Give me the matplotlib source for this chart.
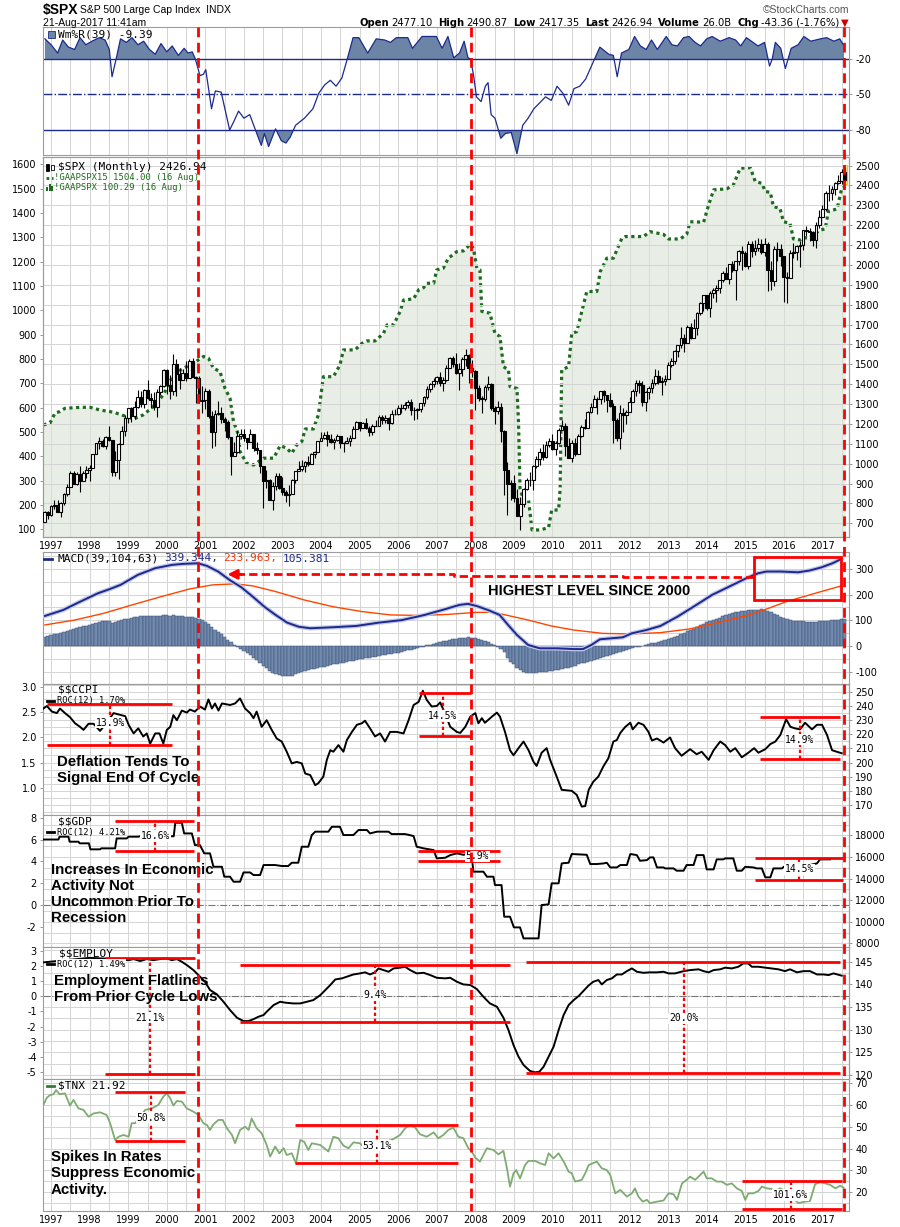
import numpy as np
import matplotlib
matplotlib.use("Agg")
import matplotlib.pyplot as plt
import matplotlib.transforms as mtransforms
from matplotlib.lines import Line2D
from matplotlib.patches import Rectangle

plt.rcParams["font.family"] = ["DejaVu Sans"]
plt.rcParams["text.parse_math"] = False
plt.rcParams["axes.unicode_minus"] = False
BOLD = ["Liberation Sans", "DejaVu Sans"]
MONO = ["DejaVu Sans Mono", "DejaVu Sans"]

# ---------------- data ----------------
# monthly $SPX candles, first bar = Nov 1996, bars sit at the start of each month
spx_first_month = 1996 + 10 / 12
spx_first_open = 705
spx_close = [
    757, 741,
    786, 791, 757, 801, 848, 885, 954, 899, 947, 915, 955, 970,
    980, 1049, 1102, 1112, 1091, 1134, 1121, 957, 1017, 1099, 1164, 1229,
    1280, 1238, 1286, 1335, 1302, 1373, 1329, 1320, 1283, 1363, 1389, 1469,
    1394, 1366, 1499, 1452, 1421, 1455, 1431, 1518, 1437, 1429, 1315, 1320,
    1366, 1240, 1160, 1249, 1256, 1224, 1211, 1134, 1041, 1060, 1139, 1148,
    1130, 1107, 1147, 1077, 1067, 990, 912, 916, 815, 886, 936, 880,
    856, 841, 848, 917, 964, 975, 990, 1008, 996, 1051, 1058, 1112,
    1131, 1145, 1126, 1107, 1121, 1141, 1102, 1104, 1115, 1130, 1174, 1212,
    1181, 1204, 1181, 1157, 1192, 1191, 1234, 1220, 1229, 1207, 1249, 1248,
    1280, 1281, 1295, 1311, 1270, 1270, 1277, 1304, 1336, 1378, 1401, 1418,
    1438, 1407, 1421, 1482, 1531, 1503, 1455, 1474, 1527, 1549, 1481, 1468,
    1379, 1331, 1323, 1386, 1400, 1280, 1267, 1283, 1166, 969, 896, 903,
    826, 735, 798, 873, 919, 919, 987, 1021, 1057, 1036, 1096, 1115,
    1074, 1104, 1169, 1187, 1089, 1031, 1102, 1049, 1141, 1183, 1181, 1258,
    1286, 1327, 1326, 1364, 1345, 1321, 1292, 1219, 1131, 1253, 1247, 1258,
    1312, 1366, 1408, 1398, 1310, 1362, 1379, 1407, 1441, 1412, 1416, 1426,
    1498, 1515, 1569, 1598, 1631, 1606, 1686, 1633, 1682, 1757, 1806, 1848,
    1783, 1859, 1872, 1884, 1924, 1960, 1931, 2003, 1972, 2018, 2068, 2059,
    1995, 2105, 2068, 2086, 2107, 2063, 2104, 1972, 1920, 2079, 2080, 2044,
    1940, 1932, 2060, 2065, 2097, 2099, 2174, 2171, 2168, 2126, 2199, 2239,
    2279, 2364, 2363, 2384, 2412, 2423, 2470, 2427,
]
spx_high = [
    762, 762,
    794, 817, 815, 805, 851, 899, 962, 961, 960, 987, 964, 986,
    992, 1051, 1106, 1132, 1123, 1139, 1190, 1121, 1066, 1103, 1192, 1245,
    1280, 1283, 1317, 1370, 1368, 1374, 1421, 1357, 1361, 1374, 1397, 1474,
    1478, 1445, 1553, 1528, 1481, 1475, 1517, 1525, 1531, 1441, 1439, 1390,
    1383, 1376, 1263, 1269, 1316, 1287, 1237, 1218, 1136, 1111, 1164, 1173,
    1176, 1131, 1173, 1147, 1107, 1070, 990, 966, 925, 908, 952, 954,
    935, 866, 895, 924, 965, 1015, 1016, 1011, 1040, 1054, 1063, 1112,
    1158, 1159, 1163, 1151, 1128, 1147, 1141, 1109, 1132, 1142, 1188, 1217,
    1212, 1212, 1229, 1192, 1199, 1219, 1246, 1245, 1243, 1233, 1271, 1276,
    1295, 1298, 1311, 1318, 1326, 1285, 1281, 1307, 1340, 1389, 1407, 1432,
    1441, 1461, 1438, 1498, 1535, 1541, 1556, 1504, 1539, 1576, 1553, 1524,
    1472, 1396, 1341, 1397, 1440, 1405, 1292, 1314, 1303, 1167, 1007, 919,
    944, 875, 833, 878, 930, 956, 993, 1039, 1081, 1101, 1114, 1130,
    1150, 1113, 1180, 1220, 1203, 1131, 1120, 1130, 1150, 1196, 1227, 1263,
    1303, 1345, 1333, 1365, 1371, 1346, 1357, 1307, 1230, 1293, 1278, 1270,
    1333, 1378, 1420, 1422, 1415, 1364, 1392, 1426, 1475, 1470, 1434, 1448,
    1510, 1530, 1570, 1598, 1687, 1654, 1698, 1709, 1730, 1765, 1814, 1849,
    1851, 1867, 1884, 1897, 1925, 1968, 1992, 2006, 2019, 2019, 2075, 2093,
    2072, 2120, 2118, 2126, 2135, 2130, 2133, 2113, 2021, 2094, 2117, 2104,
    2044, 1963, 2073, 2111, 2100, 2120, 2178, 2194, 2188, 2170, 2214, 2278,
    2301, 2371, 2401, 2399, 2418, 2454, 2484, 2491,
]
spx_low = [
    705, 723,
    737, 773, 756, 733, 793, 836, 882, 898, 893, 855, 914, 926,
    912, 980, 1047, 1076, 1084, 1074, 1112, 940, 940, 923, 1097, 1137,
    1205, 1212, 1226, 1281, 1287, 1279, 1325, 1281, 1268, 1233, 1347, 1387,
    1350, 1325, 1346, 1339, 1374, 1421, 1416, 1431, 1436, 1305, 1307, 1254,
    1275, 1228, 1081, 1091, 1245, 1203, 1165, 1125, 945, 1038, 1054, 1124,
    1114, 1075, 1107, 1064, 1049, 952, 776, 876, 815, 768, 868, 871,
    840, 806, 789, 847, 902, 962, 962, 960, 990, 996, 1031, 1058,
    1112, 1124, 1087, 1105, 1076, 1114, 1079, 1060, 1102, 1090, 1127, 1173,
    1163, 1180, 1176, 1137, 1146, 1188, 1191, 1201, 1205, 1168, 1201, 1246,
    1245, 1253, 1268, 1282, 1245, 1220, 1225, 1261, 1290, 1327, 1360, 1385,
    1403, 1390, 1364, 1416, 1482, 1484, 1452, 1371, 1439, 1490, 1407, 1435,
    1271, 1317, 1257, 1315, 1373, 1272, 1200, 1248, 1107, 840, 741, 815,
    805, 735, 667, 784, 866, 889, 869, 978, 992, 1020, 1029, 1085,
    1071, 1045, 1101, 1170, 1040, 1029, 1010, 1040, 1048, 1132, 1174, 1187,
    1257, 1289, 1249, 1299, 1311, 1259, 1283, 1102, 1114, 1075, 1159, 1202,
    1258, 1312, 1340, 1358, 1292, 1267, 1325, 1355, 1396, 1403, 1343, 1398,
    1426, 1485, 1501, 1537, 1581, 1560, 1605, 1627, 1633, 1646, 1746, 1768,
    1771, 1737, 1834, 1814, 1859, 1915, 1930, 1905, 1964, 1821, 2001, 1973,
    1988, 1981, 2040, 2049, 2068, 2056, 2044, 1867, 1872, 1893, 2019, 1993,
    1812, 1810, 1937, 2034, 2025, 1992, 2075, 2148, 2120, 2097, 2084, 2187,
    2245, 2271, 2322, 2329, 2353, 2405, 2408, 2417,
]

# !GAAPSPX15 (dotted line + shaded area, left scale)
gaap15 = [
    (1996.80, 529), (1996.97, 536), (1997.10, 577), (1997.23, 584), (1997.36, 597),
    (1997.75, 601), (1998.01, 601), (1998.27, 590), (1998.62, 581), (1998.88, 567),
    (1999.14, 553), (1999.39, 570), (1999.65, 604), (1999.91, 652), (2000.17, 734),
    (2000.43, 762), (2000.69, 782), (2000.95, 810), (2001.08, 803), (2001.21, 762),
    (2001.38, 748), (2001.51, 679), (2001.64, 638), (2001.73, 542), (2001.86, 488),
    (2001.90, 419), (2002.07, 371), (2002.25, 364), (2002.51, 392), (2002.77, 392),
    (2002.94, 444), (2003.11, 433), (2003.24, 412), (2003.37, 447), (2003.50, 460),
    (2003.59, 512), (2003.80, 512), (2003.93, 570), (2004.06, 727), (2004.32, 727),
    (2004.49, 775), (2004.58, 837), (2004.88, 837), (2005.06, 864), (2005.19, 874),
    (2005.40, 874), (2005.62, 905), (2005.71, 940), (2005.88, 940), (2006.05, 995),
    (2006.14, 1042), (2006.40, 1047), (2006.53, 1084), (2006.66, 1093), (2006.74, 1111),
    (2006.92, 1111), (2007.00, 1166), (2007.17, 1173), (2007.30, 1214), (2007.52, 1241),
    (2007.69, 1244), (2007.87, 1271), (2007.95, 1255), (2008.04, 1173), (2008.12, 1166),
    (2008.17, 995), (2008.38, 988), (2008.51, 905), (2008.64, 892), (2008.73, 768),
    (2008.86, 755), (2008.90, 686), (2009.08, 679), (2009.12, 542), (2009.16, 268),
    (2009.25, 221), (2009.38, 221), (2009.47, 97), (2009.68, 97), (2009.90, 107),
    (2009.98, 179), (2010.16, 179), (2010.20, 268), (2010.24, 755), (2010.42, 768),
    (2010.50, 905), (2010.63, 912), (2010.76, 995), (2010.89, 1077), (2011.15, 1077),
    (2011.24, 1159), (2011.41, 1214), (2011.58, 1214), (2011.80, 1296), (2011.89, 1303),
    (2012.36, 1303), (2012.53, 1323), (2012.88, 1312), (2013.01, 1293), (2013.31, 1293),
    (2013.48, 1312), (2013.57, 1364), (2013.92, 1362), (2014.05, 1433), (2014.18, 1495),
    (2014.52, 1499), (2014.69, 1515), (2014.87, 1584), (2015.13, 1586), (2015.26, 1529),
    (2015.43, 1522), (2015.52, 1488), (2015.65, 1485), (2015.73, 1426), (2015.90, 1419),
    (2015.99, 1364), (2016.16, 1358), (2016.25, 1293), (2016.42, 1289), (2016.51, 1299),
    (2016.64, 1296), (2016.77, 1310), (2016.94, 1330), (2017.07, 1334), (2017.16, 1408),
    (2017.38, 1416), (2017.50, 1501), (2017.59, 1508),
]

# Williams %R(39)
wmr = [
    (1996.84, -3), (1997.00, -8), (1997.17, -15), (1997.30, -4), (1997.45, -10),
    (1997.61, -12), (1997.75, -2), (1997.90, -8), (1998.06, -5), (1998.25, -2),
    (1998.40, -4), (1998.51, -12), (1998.58, -35), (1998.70, -18), (1998.80, -3),
    (1998.95, -6), (1999.10, -2), (1999.25, -8), (1999.40, -5), (1999.55, -12),
    (1999.70, -16), (1999.85, -7), (2000.00, -14), (2000.14, -9), (2000.30, -17),
    (2000.45, -11), (2000.55, -15), (2000.66, -14), (2000.74, -20), (2000.86, -34),
    (2000.95, -33), (2001.01, -29), (2001.16, -62), (2001.26, -47), (2001.41, -48),
    (2001.63, -80), (2001.75, -72), (2001.86, -64), (2002.00, -70), (2002.15, -67),
    (2002.30, -80), (2002.45, -93), (2002.53, -83), (2002.64, -94), (2002.82, -79),
    (2002.97, -89), (2003.09, -91), (2003.20, -86), (2003.34, -76), (2003.57, -70),
    (2003.79, -62), (2003.94, -49), (2004.09, -42), (2004.24, -38), (2004.39, -43),
    (2004.54, -36), (2004.68, -20), (2004.83, -2), (2004.98, -2), (2005.21, -15),
    (2005.43, -3), (2005.65, -4), (2005.80, -6), (2005.95, -2), (2006.25, -2),
    (2006.37, -11), (2006.62, -1), (2006.99, -1), (2007.14, -11), (2007.29, -1),
    (2007.44, -19), (2007.59, -15), (2007.71, -5), (2007.81, -19), (2007.88, -20),
    (2007.96, -35), (2008.03, -52), (2008.15, -56), (2008.26, -43), (2008.33, -40),
    (2008.41, -67), (2008.51, -70), (2008.66, -87), (2008.78, -83), (2008.93, -82),
    (2009.08, -100), (2009.23, -76), (2009.37, -70), (2009.52, -62), (2009.67, -57),
    (2009.82, -52), (2009.97, -55), (2010.12, -43), (2010.27, -49), (2010.42, -59),
    (2010.56, -45), (2010.71, -43), (2010.86, -37), (2011.01, -26), (2011.23, -10),
    (2011.46, -16), (2011.58, -17), (2011.68, -35), (2011.79, -15), (2011.98, -12),
    (2012.13, -1), (2012.28, -9), (2012.43, -12), (2012.57, -4), (2012.72, -12),
    (2012.95, -1), (2013.10, -8), (2013.24, -9), (2013.40, -2), (2013.54, -1),
    (2013.70, -6), (2013.84, -9), (2014.00, -3), (2014.14, -1), (2014.35, -5),
    (2014.58, -2), (2014.75, -4), (2014.88, -9), (2015.03, -2), (2015.20, -6),
    (2015.33, -9), (2015.50, -6), (2015.63, -26), (2015.70, -20), (2015.78, -6),
    (2015.92, -11), (2016.04, -28), (2016.19, -11), (2016.37, -8), (2016.52, -1),
    (2016.70, -5), (2016.82, -4), (2016.95, -3), (2017.11, -2), (2017.30, -5),
    (2017.45, -3), (2017.56, -9),
]

# MACD(39,104,63)
macd_line = [
    (1996.84, 117), (1997.31, 140), (1997.76, 173), (1998.21, 205), (1998.51, 221),
    (1998.80, 238), (1999.25, 277), (1999.70, 303), (2000.14, 316), (2000.44, 320),
    (2000.81, 322), (2001.04, 312), (2001.33, 290), (2001.63, 257), (2001.93, 229),
    (2002.23, 192), (2002.53, 153), (2002.82, 121), (2003.12, 91), (2003.42, 75),
    (2003.72, 69), (2004.31, 73), (2004.91, 78), (2005.50, 91), (2006.10, 101),
    (2006.69, 121), (2007.14, 140), (2007.59, 160), (2007.81, 164), (2008.03, 156),
    (2008.33, 140), (2008.63, 121), (2008.85, 82), (2009.08, 43), (2009.37, 4),
    (2009.67, -9), (2010.12, -9), (2010.56, -12), (2010.79, -12), (2011.01, 4),
    (2011.23, 26), (2011.53, 30), (2011.83, 34), (2012.05, 49), (2012.43, 62),
    (2012.80, 78), (2013.24, 114), (2013.69, 156), (2014.14, 199), (2014.58, 231),
    (2015.03, 264), (2015.33, 283), (2015.55, 290), (2015.92, 290), (2016.37, 287),
    (2016.67, 294), (2016.97, 306), (2017.26, 322), (2017.49, 339),
]
macd_signal = [
    (1996.84, 82), (1997.61, 101), (1998.36, 127), (1999.10, 160), (1999.85, 192),
    (2000.59, 222), (2001.19, 238), (2001.78, 242), (2002.23, 234), (2002.82, 212),
    (2003.57, 179), (2004.31, 153), (2005.06, 134), (2005.80, 121), (2006.54, 119),
    (2007.29, 123), (2008.03, 131), (2008.48, 131), (2008.78, 121), (2009.37, 101),
    (2009.97, 78), (2010.56, 62), (2011.31, 49), (2012.05, 47), (2012.80, 52),
    (2013.54, 66), (2014.29, 91), (2015.03, 118), (2015.48, 140), (2016.07, 173),
    (2016.67, 199), (2017.11, 218), (2017.49, 234),
]
# monthly histogram, same months as the candles
macd_hist = [
    34, 38,
    42, 45, 48, 52, 56, 59, 62, 66, 70, 73, 76, 79,
    82, 85, 88, 92, 96, 99, 96, 90, 93, 98, 101, 104,
    107, 110, 112, 114, 115, 116, 117, 117, 116, 117, 118, 119,
    119, 118, 119, 118, 117, 116, 114, 113, 112, 110, 106, 100,
    92, 84, 74, 64, 54, 45, 35, 25, 14, 4, -5, -12,
    -20, -28, -36, -45, -55, -66, -77, -87, -96, -104, -110, -114,
    -117, -118, -117, -115, -111, -106, -101, -97, -94, -91, -88, -85,
    -82, -80, -78, -75, -72, -70, -68, -66, -63, -60, -58, -55,
    -52, -50, -48, -46, -44, -41, -39, -37, -35, -33, -31, -29,
    -26, -23, -20, -17, -14, -11, -8, -5, -2, 2, 5, 8,
    12, 15, 18, 21, 24, 27, 29, 30, 32, 33, 34, 33,
    30, 26, 22, 18, 14, 9, 4, -2, -10, -25, -45, -62,
    -72, -84, -95, -100, -104, -106, -106, -105, -103, -101, -100, -98,
    -96, -94, -92, -89, -87, -84, -80, -76, -72, -68, -65, -61,
    -57, -53, -49, -45, -42, -39, -35, -30, -26, -22, -18, -14,
    -11, -8, -5, -2, 1, 4, 7, 10, 13, 16, 19, 22,
    26, 30, 34, 39, 45, 51, 57, 62, 68, 74, 80, 86,
    92, 96, 100, 105, 110, 115, 120, 124, 128, 131, 134, 137,
    138, 139, 140, 141, 142, 143, 142, 138, 132, 126, 120, 114,
    108, 104, 101, 99, 98, 97, 96, 95, 95, 95, 95, 96,
    97, 98, 99, 100, 101, 102, 104, 105,
]

# $$CCPI ROC(12), %
ccpi_roc = [
    (1996.80, 2.57), (1996.89, 2.62), (1997.02, 2.51), (1997.15, 2.48), (1997.23, 2.57),
    (1997.36, 2.48), (1997.49, 2.40), (1997.62, 2.28), (1997.75, 2.21), (1997.84, 2.15),
    (1997.97, 2.27), (1998.10, 2.27), (1998.27, 2.13), (1998.45, 2.30), (1998.62, 2.48),
    (1998.92, 2.42), (1999.01, 2.25), (1999.14, 2.08), (1999.26, 2.18), (1999.39, 2.02),
    (1999.48, 2.08), (1999.57, 1.88), (1999.70, 2.08), (1999.81, 2.08), (1999.91, 1.88),
    (2000.00, 2.15), (2000.09, 2.21), (2000.17, 2.44), (2000.26, 2.34), (2000.39, 2.53),
    (2000.52, 2.49), (2000.60, 2.55), (2000.73, 2.51), (2000.86, 2.61), (2000.99, 2.55),
    (2001.08, 2.75), (2001.17, 2.57), (2001.25, 2.67), (2001.34, 2.53), (2001.43, 2.67),
    (2001.64, 2.64), (2001.77, 2.67), (2001.90, 2.77), (2002.03, 2.57), (2002.16, 2.48),
    (2002.25, 2.38), (2002.33, 2.51), (2002.46, 2.21), (2002.59, 2.34), (2002.72, 2.15),
    (2002.85, 1.98), (2002.98, 1.92), (2003.11, 1.72), (2003.24, 1.49), (2003.37, 1.52),
    (2003.50, 1.49), (2003.59, 1.29), (2003.72, 1.26), (2003.85, 1.06), (2003.93, 1.10),
    (2004.06, 1.23), (2004.15, 1.56), (2004.24, 1.75), (2004.32, 1.72), (2004.45, 1.85),
    (2004.58, 1.72), (2004.67, 1.95), (2004.80, 2.11), (2004.93, 2.25), (2005.06, 2.28),
    (2005.14, 2.33), (2005.27, 2.18), (2005.40, 2.02), (2005.53, 2.08), (2005.66, 1.92),
    (2005.79, 2.11), (2005.96, 2.11), (2006.14, 2.08), (2006.27, 2.34), (2006.40, 2.64),
    (2006.53, 2.70), (2006.64, 2.92), (2006.74, 2.74), (2006.87, 2.61), (2007.00, 2.62),
    (2007.09, 2.69), (2007.16, 2.57), (2007.35, 2.21), (2007.52, 2.11), (2007.61, 2.09),
    (2007.74, 2.21), (2007.87, 2.41), (2008.00, 2.48), (2008.08, 2.28), (2008.17, 2.38),
    (2008.25, 2.29), (2008.43, 2.41), (2008.56, 2.49), (2008.64, 2.41), (2008.77, 2.11),
    (2008.90, 1.75), (2008.99, 1.65), (2009.12, 1.79), (2009.25, 1.92), (2009.38, 1.75),
    (2009.51, 1.52), (2009.59, 1.44), (2009.72, 1.70), (2009.85, 1.79), (2009.94, 1.56),
    (2010.11, 1.23), (2010.24, 0.97), (2010.50, 0.95), (2010.63, 0.87), (2010.76, 0.64),
    (2010.85, 0.65), (2010.94, 0.97), (2011.06, 1.13), (2011.19, 1.23), (2011.32, 1.43),
    (2011.45, 1.59), (2011.58, 1.92), (2011.67, 1.95), (2011.76, 2.09), (2011.89, 2.21),
    (2012.02, 2.29), (2012.08, 2.16), (2012.23, 2.29), (2012.36, 2.25), (2012.49, 2.11),
    (2012.58, 1.94), (2012.71, 1.98), (2012.88, 1.90), (2013.05, 2.00), (2013.18, 1.79),
    (2013.35, 1.64), (2013.57, 1.77), (2013.74, 1.67), (2013.87, 1.72), (2014.05, 1.56),
    (2014.18, 1.75), (2014.35, 1.92), (2014.48, 1.85), (2014.61, 1.72), (2014.74, 1.79),
    (2014.91, 1.61), (2015.08, 1.70), (2015.23, 1.79), (2015.34, 1.70), (2015.52, 1.77),
    (2015.65, 1.87), (2015.78, 1.92), (2015.91, 2.05), (2016.06, 2.36), (2016.17, 2.21),
    (2016.29, 2.18), (2016.42, 2.16), (2016.55, 2.29), (2016.73, 2.16), (2016.86, 2.25),
    (2016.99, 2.25), (2017.12, 2.05), (2017.25, 1.75), (2017.37, 1.72), (2017.50, 1.69),
]

# $$GDP ROC(12), % (quarterly steps)
gdp_roc = [
    (1996.80, 6.00), (1997.19, 6.00), (1997.22, 6.26), (1997.45, 6.26), (1997.48, 5.80),
    (1997.71, 5.80), (1997.74, 5.65), (1997.98, 5.65), (1998.02, 5.10), (1998.27, 5.10),
    (1998.30, 5.19), (1998.66, 5.19), (1998.70, 6.10), (1998.96, 6.10), (1999.01, 6.26),
    (1999.26, 6.26), (1999.30, 6.30), (2000.18, 6.30), (2000.22, 7.54), (2000.39, 7.54),
    (2000.45, 6.56), (2000.65, 6.56), (2000.73, 5.49), (2000.86, 5.49), (2000.97, 4.73),
    (2001.12, 4.73), (2001.21, 3.50), (2001.43, 3.50), (2001.49, 2.59), (2001.64, 2.59),
    (2001.73, 2.13), (2001.90, 2.13), (2001.99, 2.98), (2002.16, 2.98), (2002.25, 2.74),
    (2002.42, 2.74), (2002.51, 3.66), (2002.81, 3.66), (2002.98, 3.57), (2003.15, 3.57),
    (2003.24, 3.87), (2003.41, 3.87), (2003.50, 5.34), (2003.67, 5.34), (2003.76, 6.41),
    (2003.85, 6.72), (2004.19, 6.72), (2004.28, 7.17), (2004.49, 7.17), (2004.58, 6.41),
    (2004.84, 6.41), (2004.97, 6.87), (2005.19, 6.87), (2005.27, 6.56), (2005.45, 6.72),
    (2005.75, 6.72), (2005.83, 6.50), (2006.18, 6.50), (2006.40, 6.32), (2006.48, 5.34),
    (2006.66, 5.19), (2006.92, 5.03), (2007.00, 4.27), (2007.22, 4.33), (2007.35, 4.57),
    (2007.52, 4.73), (2007.69, 4.60), (2007.90, 4.73), (2007.95, 3.05), (2008.21, 3.05),
    (2008.30, 2.59), (2008.47, 2.59), (2008.51, 1.82), (2008.68, 1.82), (2008.75, -1.08),
    (2008.90, -1.08), (2009.00, -2.06), (2009.16, -2.06), (2009.25, -3.07), (2009.64, -3.07),
    (2009.72, -0.01), (2009.90, 0.05), (2009.98, 1.98), (2010.16, 1.98), (2010.24, 3.81),
    (2010.42, 3.87), (2010.50, 4.67), (2010.89, 4.60), (2010.98, 3.75), (2011.15, 3.75),
    (2011.33, 3.81), (2011.41, 3.87), (2011.50, 3.44), (2011.67, 3.44), (2011.76, 3.66),
    (2011.93, 3.66), (2012.02, 4.67), (2012.19, 4.57), (2012.27, 4.05), (2012.45, 4.11),
    (2012.53, 4.36), (2012.62, 4.36), (2012.71, 3.44), (2012.88, 3.44), (2012.92, 3.35),
    (2013.14, 3.35), (2013.22, 3.14), (2013.40, 3.14), (2013.48, 3.66), (2013.66, 3.66),
    (2013.74, 4.57), (2013.92, 4.57), (2014.00, 3.26), (2014.18, 3.26), (2014.26, 4.18),
    (2014.43, 4.18), (2014.48, 4.27), (2014.69, 4.27), (2014.78, 3.14), (2014.91, 3.14),
    (2015.00, 3.50), (2015.21, 3.44), (2015.30, 3.35), (2015.43, 3.35), (2015.52, 2.53),
    (2015.65, 2.53), (2015.73, 3.35), (2015.95, 3.35), (2016.00, 3.50), (2016.30, 3.50),
    (2016.40, 3.40), (2016.60, 3.60), (2016.86, 3.81), (2016.94, 4.18), (2017.20, 4.18),
]

# $$EMPLOY ROC(12), %
employ_roc = [
    (1996.80, 2.25), (1997.20, 2.35), (1997.60, 2.45), (1998.00, 2.55), (1998.40, 2.50),
    (1998.80, 2.42), (1999.01, 2.40), (1999.14, 2.47), (1999.31, 2.34), (1999.48, 2.47),
    (1999.65, 2.40), (1999.83, 2.47), (2000.00, 2.51), (2000.13, 2.40), (2000.26, 2.47),
    (2000.39, 2.29), (2000.52, 2.07), (2000.69, 1.74), (2000.86, 1.30), (2000.99, 0.97),
    (2001.12, 0.42), (2001.30, 0.13), (2001.47, -0.36), (2001.64, -0.91), (2001.82, -1.42),
    (2001.99, -1.64), (2002.12, -1.64), (2002.25, -1.51), (2002.38, -1.35), (2002.51, -1.24),
    (2002.59, -1.02), (2002.77, -0.58), (2002.94, -0.36), (2003.07, -0.42), (2003.28, -0.47),
    (2003.46, -0.47), (2003.63, -0.36), (2003.80, -0.25), (2003.98, 0.08), (2004.11, 0.42),
    (2004.24, 0.75), (2004.37, 1.12), (2004.54, 1.19), (2004.67, 1.30), (2004.84, 1.45),
    (2005.01, 1.52), (2005.14, 1.59), (2005.27, 1.45), (2005.40, 1.59), (2005.49, 1.85),
    (2005.62, 1.74), (2005.75, 1.63), (2005.88, 1.85), (2006.05, 1.90), (2006.18, 1.96),
    (2006.31, 1.74), (2006.48, 1.52), (2006.66, 1.56), (2006.83, 1.41), (2007.00, 1.23),
    (2007.22, 1.19), (2007.35, 1.23), (2007.52, 0.97), (2007.69, 0.79), (2007.87, 0.75),
    (2008.04, 0.48), (2008.21, -0.03), (2008.38, -0.47), (2008.56, -0.69), (2008.73, -1.42),
    (2008.86, -2.24), (2008.99, -3.23), (2009.12, -4.00), (2009.25, -4.55), (2009.42, -4.95),
    (2009.55, -5.04), (2009.66, -5.00), (2009.77, -4.67), (2009.90, -4.00), (2010.03, -3.34),
    (2010.16, -2.24), (2010.29, -1.24), (2010.42, -0.58), (2010.55, -0.25), (2010.68, 0.02),
    (2010.80, 0.35), (2010.93, 0.70), (2011.06, 0.97), (2011.19, 1.08), (2011.28, 0.79),
    (2011.41, 1.08), (2011.54, 1.19), (2011.67, 1.45), (2011.80, 1.45), (2011.93, 1.67),
    (2012.06, 1.85), (2012.19, 1.63), (2012.36, 1.56), (2012.53, 1.59), (2012.71, 1.59),
    (2012.88, 1.63), (2013.01, 1.52), (2013.18, 1.52), (2013.40, 1.67), (2013.57, 1.74),
    (2013.79, 1.79), (2013.92, 1.67), (2014.05, 1.59), (2014.18, 1.74), (2014.35, 1.79),
    (2014.48, 1.90), (2014.65, 1.85), (2014.82, 1.96), (2014.95, 2.18), (2015.08, 2.18),
    (2015.17, 1.96), (2015.34, 1.96), (2015.52, 1.90), (2015.69, 1.85), (2015.86, 1.79),
    (2016.03, 1.67), (2016.16, 1.79), (2016.34, 1.59), (2016.51, 1.67), (2016.68, 1.67),
    (2016.86, 1.45), (2017.03, 1.45), (2017.16, 1.41), (2017.29, 1.52), (2017.50, 1.37),
]

# $TNX (10y yield x10)
tnx = [
    (1996.80, 60.1), (1996.89, 63.4), (1996.97, 64.6), (1997.06, 65.0), (1997.13, 66.9),
    (1997.22, 65.0), (1997.36, 65.4), (1997.49, 59.8), (1997.58, 62.4), (1997.71, 58.5),
    (1997.84, 57.8), (1997.97, 54.7), (1998.10, 56.2), (1998.27, 56.7), (1998.44, 55.5),
    (1998.53, 51.7), (1998.66, 44.0), (1998.75, 45.5), (1998.88, 46.3), (1999.01, 45.5),
    (1999.09, 51.7), (1999.18, 51.7), (1999.31, 54.7), (1999.44, 57.8), (1999.61, 58.5),
    (1999.78, 60.1), (1999.91, 63.9), (2000.00, 65.4), (2000.09, 63.1), (2000.17, 59.8),
    (2000.26, 61.9), (2000.39, 61.6), (2000.52, 58.5), (2000.69, 57.0), (2000.82, 55.5),
    (2000.95, 51.7), (2001.04, 50.9), (2001.12, 48.6), (2001.21, 51.2), (2001.34, 53.2),
    (2001.45, 53.2), (2001.56, 49.4), (2001.69, 46.3), (2001.77, 42.5), (2001.90, 48.6),
    (2002.03, 50.1), (2002.12, 48.6), (2002.20, 53.9), (2002.33, 49.4), (2002.46, 47.1),
    (2002.59, 41.7), (2002.68, 36.4), (2002.81, 41.0), (2002.92, 37.9), (2003.03, 40.2),
    (2003.11, 37.1), (2003.24, 37.9), (2003.35, 33.3), (2003.46, 44.0), (2003.56, 43.2),
    (2003.67, 39.4), (2003.76, 42.5), (2003.98, 41.7), (2004.19, 38.7), (2004.32, 45.5),
    (2004.45, 44.8), (2004.58, 41.4), (2004.71, 40.2), (2004.84, 42.9), (2005.01, 42.5),
    (2005.14, 40.2), (2005.32, 42.9), (2005.45, 44.0), (2005.58, 42.5), (2005.75, 43.5),
    (2005.88, 44.5), (2006.05, 46.3), (2006.18, 49.4), (2006.31, 50.9), (2006.44, 49.7),
    (2006.57, 46.6), (2006.74, 45.5), (2006.92, 47.5), (2007.04, 44.8), (2007.17, 46.3),
    (2007.30, 48.6), (2007.43, 49.7), (2007.56, 45.5), (2007.69, 44.8), (2007.82, 40.2),
    (2007.91, 38.7), (2008.00, 35.9), (2008.12, 34.1), (2008.30, 40.2), (2008.47, 39.4),
    (2008.60, 37.4), (2008.73, 39.0), (2008.82, 31.0), (2008.90, 22.6), (2008.99, 28.7),
    (2009.06, 30.2), (2009.16, 26.4), (2009.29, 32.5), (2009.38, 34.4), (2009.55, 34.4),
    (2009.68, 33.3), (2009.81, 32.5), (2009.90, 37.9), (2010.03, 35.6), (2010.16, 37.9),
    (2010.29, 34.1), (2010.42, 29.5), (2010.50, 28.7), (2010.59, 24.9), (2010.76, 25.7),
    (2010.85, 28.7), (2010.94, 32.5), (2011.15, 34.1), (2011.28, 31.0), (2011.41, 30.2),
    (2011.50, 27.9), (2011.63, 19.5), (2011.76, 21.1), (2011.93, 18.0), (2012.06, 19.5),
    (2012.14, 21.8), (2012.23, 18.0), (2012.34, 15.7), (2012.45, 16.5), (2012.53, 15.0),
    (2012.71, 15.7), (2012.88, 16.2), (2013.01, 19.5), (2013.14, 19.1), (2013.23, 16.5),
    (2013.36, 24.1), (2013.48, 25.7), (2013.57, 27.2), (2013.70, 25.7), (2013.83, 27.9),
    (2013.92, 29.5), (2014.00, 26.4), (2014.13, 26.4), (2014.26, 24.9), (2014.39, 24.9),
    (2014.52, 23.4), (2014.65, 24.1), (2014.78, 21.8), (2014.91, 20.6), (2015.00, 16.5),
    (2015.08, 19.5), (2015.21, 19.5), (2015.34, 20.6), (2015.43, 22.6), (2015.56, 21.8),
    (2015.69, 21.5), (2015.78, 20.3), (2015.90, 21.8), (2016.08, 20.3), (2016.25, 17.2),
    (2016.38, 15.0), (2016.55, 15.7), (2016.68, 16.0), (2016.81, 23.7), (2016.94, 24.6),
    (2017.07, 24.1), (2017.20, 23.4), (2017.34, 21.8), (2017.46, 23.0), (2017.55, 22.1),
]

# drawn annotations: (x_from, x_to, top, bottom, x_of_dotted_line, label, label_y)
ccpi_ranges = [(1996.89, 2000.13, 2.66, 1.86, 1998.53, "13.9%", 2.29),
               (2006.53, 2007.88, 2.88, 2.02, 2007.16, "14.5%", 2.42),
               (2015.39, 2017.46, 2.41, 1.58, 2016.42, "14.9%", 1.96)]
gdp_ranges = [(1998.66, 2000.71, 7.72, 4.97, 1999.70, "16.6%", 6.32),
              (2006.52, 2008.63, 4.97, 4.03, 2008.05, "5.9%", 4.45),
              (2015.26, 2017.54, 4.33, 2.28, 2016.40, "14.5%", 3.27)]
employ_ranges = [(1998.40, 2000.73, 2.56, -5.17, 1999.57, "21.1%", -1.42),
                 (2001.90, 2008.90, 2.07, -1.68, 2005.40, "9.4%", 0.08),
                 (2009.32, 2017.46, 2.29, -5.10, 2013.40, "20.0%", -1.46)]
tnx_ranges = [(1998.66, 2000.47, 66.1, 43.7, 1999.59, "50.8%", 54.2),
              (2003.33, 2007.55, 50.9, 33.3, 2005.45, "53.1%", 41.4),
              (2014.91, 2017.50, 25.2, 12.3, 2016.18, "101.6%", 18.8)]
cycle_tops = [2000.81, 2007.89, 2017.55]
years = list(range(1997, 2018))

# ---------------- layout ----------------
W, H = 900, 1227
LEFT, RIGHT = 43, 849
X0, X1 = 1996.79, 2017.69
GRID = "#d4d4d4"
SPINE = "#9c9c9c"
NAVY = "#1c2a8c"

fig = plt.figure(figsize=(9, 12.27), dpi=100)


def fx(px):
    return px / W


def fy(py):
    return 1 - py / H


def make_panel(top, bottom, ylim):
    ax = fig.add_axes([fx(LEFT), fy(bottom), (RIGHT - LEFT) / W, (bottom - top) / H])
    ax.set_xlim(X0, X1)
    ax.set_ylim(*ylim)
    ax.set_xticks([])
    for s in ax.spines.values():
        s.set_color(SPINE)
        s.set_linewidth(0.8)
    for yr in np.arange(1997, 2018, 0.5):
        ax.axvline(yr, color=GRID, lw=0.7, zorder=0)
    ax.tick_params(axis="y", labelsize=7, length=2.5, width=0.6, color="#888888", pad=2)
    return ax


def hgrid(ax, values):
    for v in values:
        ax.axhline(v, color=GRID, lw=0.7, zorder=0)


def year_labels(ax):
    ax.set_xticks(years)
    ax.set_xticklabels([str(y) for y in years])
    ax.tick_params(axis="x", length=0, labelsize=7, pad=3)


def split(pairs):
    xs, vs = zip(*pairs)
    return np.array(xs), np.array(vs)


def bracket(ax, rng):
    x0, x1, top, bot, xm, label, ly = rng
    ax.plot([x0, x1], [top, top], color="red", lw=2, zorder=5, solid_capstyle="butt")
    ax.plot([x0, x1], [bot, bot], color="red", lw=2, zorder=5, solid_capstyle="butt")
    ax.plot([xm, xm], [bot, top], color="red", lw=1.6, ls=(0, (1.5, 1.2)), zorder=5)
    ax.text(xm, ly, label, fontsize=7, family=MONO, ha="center", va="center", zorder=6,
            bbox=dict(facecolor="white", edgecolor="none", pad=0.5))


def legend_dash(px0, px1, py, color, ls="-", lw=2):
    fig.add_artist(Line2D([fx(px0), fx(px1)], [fy(py), fy(py)], transform=fig.transFigure,
                          color=color, lw=lw, ls=ls))


def legend_text(px, py, s, size=8, color="black", **kw):
    return fig.text(fx(px), fy(py), s, fontsize=size, family=MONO, color=color,
                    va="center", **kw)


def text_run(pieces, x, y, size, family, right=False):
    # lay out differently styled pieces of one line; gap = space after each piece
    r = fig.canvas.get_renderer()
    texts = []
    for s, weight, color, gap in pieces:
        t = fig.text(0, fy(y), s, ha="left", va="center", fontsize=size,
                     fontweight=weight, color=color, family=family)
        texts.append((t, t.get_window_extent(r).width, gap))
    if right:
        x -= sum(w for _, w, _ in texts) + sum(g for _, _, g in texts[:-1])
    for t, w, gap in texts:
        t.set_x(fx(x))
        x += w + gap


def bold_note(px, py, s):
    fig.text(fx(px), fy(py), s, fontsize=10.8, fontweight="bold", family=BOLD,
             ha="left", va="center", linespacing=1.2, zorder=8)


# ---------------- Wm%R panel ----------------
ax_w = make_panel(27, 155, (-101.1, 7.0))
wx, wv = split(wmr)
ax_w.fill_between(wx, wv, -20, where=wv > -20, interpolate=True, color="#6c84a6", lw=0)
ax_w.fill_between(wx, wv, -80, where=wv < -80, interpolate=True, color="#6c84a6", lw=0)
ax_w.plot(wx, wv, color=NAVY, lw=0.9)
ax_w.axhline(-20, color=NAVY, lw=1)
ax_w.axhline(-80, color=NAVY, lw=1)
ax_w.axhline(-50, color=NAVY, lw=1, ls="-.")
ax_w.yaxis.tick_right()
ax_w.set_yticks([-20, -50, -80])

# ---------------- price panel ----------------
ax_l = make_panel(157, 537, (68, 1630))
ax_r = ax_l.twinx()
ax_r.set_ylim(631, 2543)
for s in ax_r.spines.values():
    s.set_color(SPINE)
gx, gv = split(gaap15)
ax_l.fill_between(gx, gv, 0, color="#d9e3d6", alpha=0.6, lw=0, zorder=1)
ax_l.plot(gx, gv, color="#1d6b1d", lw=2.3, ls=(0, (1, 1.1)), zorder=3)
ax_l.set_yticks(range(100, 1700, 100))
ax_r.set_yticks(range(700, 2600, 100))
ax_r.tick_params(axis="y", labelsize=7, length=2.5, width=0.6, color="#888888", pad=2)
hgrid(ax_r, range(700, 2600, 100))
year_labels(ax_l)

close = np.array(spx_close, dtype=float)
high = np.array(spx_high, dtype=float)
low = np.array(spx_low, dtype=float)
opn = np.r_[spx_first_open, close[:-1]]
xm = spx_first_month + np.arange(len(close)) / 12
up = close >= opn
ax_r.add_patch(Rectangle((xm[-1] - 0.06, low[-1] - 12), 0.12, high[-1] - low[-1] + 24,
                         facecolor="#fff59a", edgecolor="#e8cf00", lw=0.8, zorder=2))
ax_r.vlines(xm, low, high, color="black", lw=0.8, zorder=3)
ax_r.bar(xm[up], (close - opn)[up], bottom=opn[up], width=0.072, color="white",
         edgecolor="black", lw=0.8, zorder=4)
ax_r.bar(xm[~up], (opn - close)[~up], bottom=close[~up], width=0.072, color="black",
         edgecolor="black", lw=0.8, zorder=4)

# ---------------- MACD panel ----------------
ax_m = make_panel(552, 684, (-148, 366))
hgrid(ax_m, range(-100, 351, 50))
hx = spx_first_month + np.arange(len(macd_hist)) / 12
ax_m.bar(hx, macd_hist, width=1 / 12, color="#7189ab", edgecolor="#3d527a", lw=0.35, zorder=2)
sx, sv = split(macd_signal)
ax_m.plot(sx, sv, color="#ff4500", lw=1, zorder=3)
mx, mv = split(macd_line)
ax_m.plot(mx, mv, color="#c3c7ea", lw=3.2, zorder=3)
ax_m.plot(mx, mv, color=NAVY, lw=1.4, zorder=4)
ax_m.yaxis.tick_right()
ax_m.set_yticks([-100, 0, 100, 200, 300])
ax_m.add_patch(Rectangle((2015.22, 179), 2017.49 - 2015.22, 346 - 179, fill=False,
                         edgecolor="red", lw=2, zorder=6))
ax_m.plot([2015.22, 2011.83, 2011.83, 2007.44, 2007.44, 2001.85],
          [268, 268, 273, 273, 279, 279], color="red", lw=2, ls=(0, (3, 1.5)), zorder=6)
ax_m.annotate("", xy=(2001.5, 279), xytext=(2002.0, 279),
              arrowprops=dict(arrowstyle="-|>", color="red", lw=2, mutation_scale=14), zorder=6)
ax_m.text(2010.95, 216, "HIGHEST LEVEL SINCE 2000", fontsize=10.5, fontweight="bold",
          family=BOLD, ha="center", va="center", zorder=7)

# ---------------- CCPI panel ----------------
ax_c = make_panel(684, 815, (0.474, 3.053))
hgrid(ax_c, [(v - 145.5) / 36.16 for v in range(165, 256, 5)])
cx, cv = split(ccpi_roc)
ax_c.plot(cx, cv, color="black", lw=1.4, zorder=3)
ax_c.set_yticks([1.0, 1.5, 2.0, 2.5, 3.0])
ax_c.set_yticklabels(["1.0", "1.5", "2.0", "2.5", "3.0"])
sec = ax_c.secondary_yaxis("right", functions=(lambda v: 145.5 + 36.16 * v,
                                               lambda v: (v - 145.5) / 36.16))
sec.set_yticks(range(170, 260, 10))
sec.tick_params(labelsize=7, length=2.5, width=0.6, color="#888888", pad=2)
sec.spines["right"].set_color(SPINE)
for rng in ccpi_ranges:
    bracket(ax_c, rng)

# ---------------- GDP panel ----------------
ax_g = make_panel(815, 947, (-3.86, 8.25))
hgrid(ax_g, [(v - 11555) / 1009.3 for v in range(8000, 20000, 1000)])
ax_g.axhline(0, color="#777777", lw=0.8, ls="-.", zorder=1)
dx, dv = split(gdp_roc)
ax_g.plot(dx, dv, color="black", lw=1.4, zorder=3)
ax_g.set_yticks([-2, 0, 2, 4, 6, 8])
sec = ax_g.secondary_yaxis("right", functions=(lambda v: 11555 + 1009.3 * v,
                                               lambda v: (v - 11555) / 1009.3))
sec.set_yticks(range(8000, 20000, 2000))
sec.tick_params(labelsize=7, length=2.5, width=0.6, color="#888888", pad=2)
sec.spines["right"].set_color(SPINE)
for rng in gdp_ranges:
    bracket(ax_g, rng)

# ---------------- EMPLOY panel ----------------
ax_e = make_panel(947, 1079, (-5.48, 3.27))
hgrid(ax_e, [(v - 137.37) / 3.331 for v in np.arange(117.5, 150, 2.5)])
ax_e.axhline(0, color="#777777", lw=0.8, ls="-.", zorder=1)
ex, ev = split(employ_roc)
ax_e.plot(ex, ev, color="black", lw=1.4, zorder=3)
ax_e.set_yticks(range(-5, 4))
sec = ax_e.secondary_yaxis("right", functions=(lambda v: 137.37 + 3.331 * v,
                                               lambda v: (v - 137.37) / 3.331))
sec.set_yticks(range(120, 150, 5))
sec.tick_params(labelsize=7, length=2.5, width=0.6, color="#888888", pad=2)
sec.spines["right"].set_color(SPINE)
for rng in employ_ranges:
    bracket(ax_e, rng)

# ---------------- TNX panel ----------------
ax_t = make_panel(1079, 1211, (11.4, 72.0))
hgrid(ax_t, range(15, 75, 5))
tx, tv = split(tnx)
ax_t.plot(tx, tv, color="#7dab72", lw=1.3, zorder=3)
ax_t.yaxis.tick_right()
ax_t.set_yticks(range(20, 80, 10))
year_labels(ax_t)
for rng in tnx_ranges:
    bracket(ax_t, rng)

# ---------------- red cycle-top lines across all panels ----------------
trans = mtransforms.blended_transform_factory(ax_w.transData, fig.transFigure)
for xc in cycle_tops:
    fig.add_artist(Line2D([xc, xc], [fy(27), fy(1211)], transform=trans, color="red",
                          lw=2, ls=(0, (3.5, 2)), zorder=20))

# ---------------- header and legends ----------------
fig.text(fx(43), fy(10), "$SPX", fontsize=10, fontweight="bold", family=BOLD, va="center")
fig.text(fx(80), fy(10), "S&P 500 Large Cap Index  INDX", fontsize=7.5, family=BOLD, va="center")
fig.text(fx(43), fy(22.5), "21-Aug-2017 11:41am", fontsize=7.5, family=BOLD, va="center")
fig.text(fx(849), fy(10), "\u00a9StockCharts.com", fontsize=7.5, family=BOLD, color="#555555",
         ha="right", va="center")
text_run([("Open", "bold", "black", 2), ("2477.10", "normal", "black", 6),
          ("High", "bold", "black", 2), ("2490.87", "normal", "black", 6),
          ("Low", "bold", "black", 2), ("2417.35", "normal", "black", 6),
          ("Last", "bold", "black", 2), ("2426.94", "normal", "black", 6),
          ("Volume", "bold", "black", 2), ("26.0B", "normal", "black", 6),
          ("Chg", "bold", "black", 2), ("-43.36 (-1.76%)", "normal", "black", 2),
          ("\u25bc", "normal", "#cc0000", 0)], 849, 22.5, 7.2, ["DejaVu Sans"], right=True)

fig.add_artist(Rectangle((fx(48), fy(38)), 7 / W, 7 / H, transform=fig.transFigure,
                         facecolor="#6c84a6", edgecolor=NAVY, lw=0.6))
legend_text(58, 34.5, "Wm%R(39) -9.39")

fig.add_artist(Rectangle((fx(46), fy(171)), 3 / W, 7 / H, transform=fig.transFigure,
                         facecolor="black", edgecolor="black", lw=0.6))
fig.add_artist(Rectangle((fx(51), fy(170)), 3 / W, 5 / H, transform=fig.transFigure,
                         facecolor="white", edgecolor="black", lw=0.6))
legend_text(58, 167.5, "$SPX (Monthly) 2426.94")
legend_dash(46, 53, 177.5, "#1d6b1d", ls=(0, (1, 1)), lw=2)
legend_text(54, 177.5, "!GAAPSPX15 1504.00 (16 Aug)", size=6.4, color="#1d6b1d")
for i, h in enumerate([4, 7, 5]):
    fig.add_artist(Rectangle((fx(46 + 2.5 * i), fy(191)), 2 / W, h / H,
                             transform=fig.transFigure, facecolor="#1d6b1d", lw=0))
legend_text(54, 187.5, "!GAAPSPX 100.29 (16 Aug)", size=6.4, color="#1d6b1d")

legend_dash(44, 52, 558.5, NAVY, lw=2)
text_run([("MACD(39,104,63)", "normal", "black", 5), ("339.344,", "normal", NAVY, 5),
          ("233.963,", "normal", "#ff3300", 5), ("105.381", "normal", NAVY, 0)],
         58, 558.5, 8, MONO)

legend_text(58, 690, "$$CCPI")
legend_dash(47, 54, 700.7, "black")
legend_text(57, 700.7, "ROC(12) 1.70%", size=6.3)
legend_text(58, 821.7, "$$GDP")
legend_dash(47, 54, 832.3, "black")
legend_text(57, 832.3, "ROC(12) 4.21%", size=6.3)
legend_text(59, 953.3, "$$EMPLOY")
legend_dash(47, 54, 964.3, "black")
legend_text(57, 964.3, "ROC(12) 1.49%", size=6.3, zorder=9,
            bbox=dict(facecolor="white", edgecolor="none", pad=0.8))
legend_dash(47, 54, 1086, "#2e7d2e")
legend_text(58, 1086, "$TNX 21.92")

bold_note(57, 770, "Deflation Tends To\nSignal End Of Cycle")
bold_note(51, 894, "Increases In Economic\nActivity Not\nUncommon Prior To\nRecession")
bold_note(54, 989, "Employment Flatlines\nFrom Prior Cycle Lows")
bold_note(51, 1173.5, "Spikes In Rates\nSuppress Economic\nActivity.")

fig.savefig("out.png", dpi=100)
